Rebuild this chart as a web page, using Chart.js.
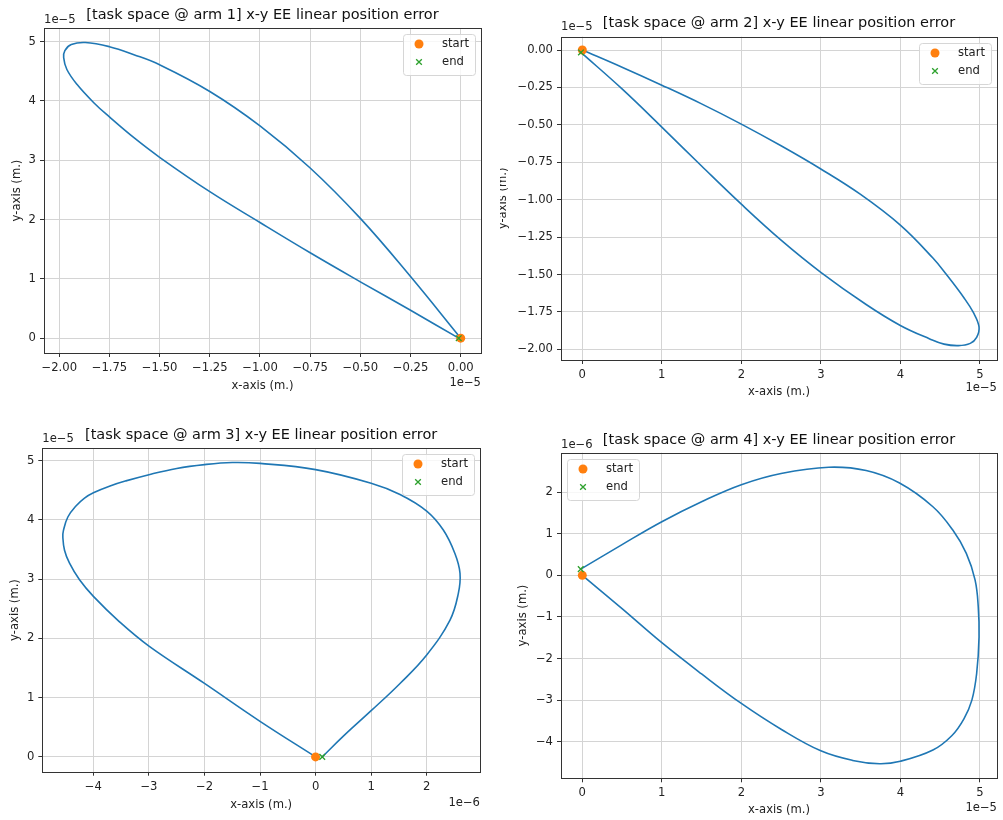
<!DOCTYPE html>
<html>
<head>
<meta charset="utf-8">
<title>x-y EE linear position error</title>
<script src="https://cdn.jsdelivr.net/npm/chart.js@4.4.1/dist/chart.umd.min.js"></script>
<style>
  body { margin: 0; background: #fff; }
  #wrap { position: relative; width: 1003px; height: 820px; overflow: hidden; }
  canvas { position: absolute; }
</style>
</head>
<body>
<div id="wrap">
  <canvas id="arm1" width="500" height="410" style="left:0;top:0"></canvas>
  <canvas id="arm2" width="503" height="410" style="left:500px;top:0"></canvas>
  <canvas id="arm3" width="500" height="410" style="left:0;top:410px"></canvas>
  <canvas id="arm4" width="503" height="410" style="left:500px;top:410px"></canvas>
</div>
<script>
// arm 1 -- x and y both in units of 1e-5 m
const arm1X = [0, -0.25, -0.5, -0.75, -1.0, -1.25, -1.5, -1.628, -1.75, -1.87, -1.94, -1.972, -1.978, -1.962, -1.912, -1.828, -1.75, -1.628, -1.5, -1.25, -1.0, -0.75, -0.5, -0.25, -0.01];
const arm1Y = [0, 1.04, 2.02, 2.87, 3.58, 4.16, 4.61, 4.78, 4.915, 4.985, 4.95, 4.85, 4.73, 4.53, 4.28, 3.97, 3.73, 3.38, 3.05, 2.47, 1.95, 1.44, 0.95, 0.47, 0];
const arm1Start = [0, 0];
const arm1End = [-0.01, 0];
const arm1XTicks = [-2, -1.75, -1.5, -1.25, -1, -0.75, -0.5, -0.25, 0];
const arm1YTicks = [0, 1, 2, 3, 4, 5];

// arm 2 -- x and y in 1e-5 m
const arm2X = [0, 0.5, 1.0, 1.5, 2.0, 2.5, 3.0, 3.5, 4.0, 4.41, 4.58, 4.8, 4.92, 4.99, 4.96, 4.88, 4.73, 4.55, 4.37, 4.0, 3.57, 3.0, 2.5, 2.0, 1.5, 1.0, 0.5, -0.017];
const arm2Y = [0, -0.115, -0.235, -0.36, -0.495, -0.64, -0.795, -0.965, -1.17, -1.39, -1.5, -1.655, -1.755, -1.85, -1.92, -1.96, -1.975, -1.965, -1.93, -1.84, -1.7, -1.485, -1.27, -1.03, -0.775, -0.515, -0.26, -0.016];
const arm2Start = [0, 0];
const arm2End = [-0.017, -0.016];
const arm2XTicks = [0, 1, 2, 3, 4, 5];
const arm2YTicks = [-2, -1.75, -1.5, -1.25, -1, -0.75, -0.5, -0.25, 0];

// arm 3 -- x in 1e-6 m, y in 1e-5 m
const arm3X = [0, -1.0, -2.0, -3.0, -3.53, -4.0, -4.25, -4.43, -4.52, -4.55, -4.54, -4.46, -4.31, -4.16, -4.0, -3.7, -3.415, -3.0, -2.5, -2.0, -1.5, -1.0, 0, 1.0, 1.52, 2.0, 2.3, 2.51, 2.6, 2.57, 2.42, 2.0, 1.52, 1.0, 0.5, 0.12];
const arm3Y = [0, 0.6, 1.24, 1.87, 2.28, 2.71, 2.99, 3.27, 3.49, 3.71, 3.82, 4.05, 4.24, 4.37, 4.46, 4.575, 4.66, 4.765, 4.87, 4.935, 4.97, 4.955, 4.85, 4.62, 4.43, 4.15, 3.83, 3.43, 3.1, 2.76, 2.31, 1.72, 1.24, 0.78, 0.35, 0];
const arm3Start = [0, 0];
const arm3End = [0.12, 0];
const arm3XTicks = [-4, -3, -2, -1, 0, 1, 2];
const arm3YTicks = [0, 1, 2, 3, 4, 5];

// arm 4 -- x in 1e-5 m, y in 1e-6 m
const arm4X = [0, 0.5, 1.0, 1.5, 2.0, 2.5, 3.0, 3.4, 3.74, 4.0, 4.41, 4.65, 4.8, 4.9, 4.96, 4.99, 4.98, 4.94, 4.83, 4.66, 4.41, 3.99, 3.57, 3.1, 2.5, 2.0, 1.5, 1.0, 0.5, -0.02];
const arm4Y = [0, -0.8, -1.62, -2.37, -3.08, -3.7, -4.22, -4.45, -4.53, -4.47, -4.2, -3.85, -3.45, -3.0, -2.36, -1.48, -0.75, -0.11, 0.53, 1.09, 1.65, 2.22, 2.52, 2.6, 2.45, 2.18, 1.77, 1.29, 0.74, 0.15];
const arm4Start = [0, 0];
const arm4End = [-0.02, 0.15];
const arm4XTicks = [0, 1, 2, 3, 4, 5];
const arm4YTicks = [-4, -3, -2, -1, 0, 1, 2];

Chart.defaults.font.family = '"DejaVu Sans", sans-serif';
Chart.defaults.color = '#222';
Chart.defaults.animation = false;

const TICK_SIZE = 11.6;
const TITLE_SIZE = 14.5;
const CANVAS_H = 410;

function pts(xs, ys) {
    return xs.map((x, i) => ({ x: x, y: ys[i] }));
}

function fmt(decimals) {
    return v => (v < 0 ? '\u2212' : '') + Math.abs(v).toFixed(decimals);
}

// matplotlib style box round the axes
const framePlugin = {
    id: 'frame',
    afterDraw(chart) {
        const a = chart.chartArea;
        const ctx = chart.ctx;
        ctx.save();
        ctx.strokeStyle = '#333';
        ctx.lineWidth = 1;
        ctx.strokeRect(Math.round(a.left) + 0.5, Math.round(a.top) + 0.5,
            Math.round(a.right) - Math.round(a.left), Math.round(a.bottom) - Math.round(a.top));
        ctx.restore();
    }
};

// legend box inside the axes
const boxLegend = {
    id: 'boxLegend',
    afterDraw(chart, args, opts) {
        const a = chart.chartArea;
        const ctx = chart.ctx;
        const w = 72, h = 41, inset = 6;
        const x0 = Math.round(opts.corner === 'nw' ? a.left + inset : a.right - inset - w);
        const y0 = Math.round(a.top + inset);
        ctx.save();
        ctx.fillStyle = 'rgba(255,255,255,0.8)';
        ctx.strokeStyle = '#d6d6d6';
        ctx.lineWidth = 1;
        ctx.beginPath();
        ctx.roundRect(x0 + 0.5, y0 + 0.5, w, h, 3);
        ctx.fill();
        ctx.stroke();
        chart.data.datasets.filter(d => d.label).forEach((d, i) => {
            const y = y0 + 10 + i * 18;
            ctx.fillStyle = d.backgroundColor;
            ctx.strokeStyle = d.borderColor;
            ctx.lineWidth = d.borderWidth;
            Chart.helpers.drawPoint(ctx, { pointStyle: d.pointStyle, radius: d.pointRadius, borderWidth: d.borderWidth }, x0 + 16, y);
            ctx.fillStyle = '#222';
            ctx.font = TICK_SIZE + 'px "DejaVu Sans"';
            ctx.textAlign = 'left';
            ctx.textBaseline = 'middle';
            ctx.fillText(d.label, x0 + 39, y);
        });
        ctx.restore();
    }
};

// the "1e-5" style multipliers
const offsetText = {
    id: 'offsetText',
    afterDraw(chart, args, opts) {
        const a = chart.chartArea;
        const ctx = chart.ctx;
        ctx.save();
        ctx.font = TICK_SIZE + 'px "DejaVu Sans"';
        ctx.fillStyle = '#222';
        ctx.textBaseline = 'middle';
        ctx.textAlign = 'left';
        ctx.fillText(opts.yText, a.left, opts.yTextY);
        ctx.textAlign = 'right';
        ctx.fillText(opts.xText, a.right, opts.xTextY);
        ctx.restore();
    }
};

const specs = [
    { id: 'arm1', title: '[task space @ arm 1] x-y EE linear position error',
      xs: arm1X, ys: arm1Y, start: arm1Start, end: arm1End,
      xTicks: arm1XTicks, yTicks: arm1YTicks, xDec: 2, yDec: 0,
      xMin: -2.076, xMax: 0.101, yMin: -0.25, yMax: 5.23,
      xText: '1e\u22125', yText: '1e\u22125', corner: 'ne',
      w: 500, left: 44, right: 481, top: 28, bottom: 353,
      titleY: 15, yTitleX: 17, xTitleY: 386, topTextY: 20, botTextY: 383 },
    { id: 'arm2', title: '[task space @ arm 2] x-y EE linear position error',
      xs: arm2X, ys: arm2Y, start: arm2Start, end: arm2End,
      xTicks: arm2XTicks, yTicks: arm2YTicks, xDec: 0, yDec: 2,
      xMin: -0.268, xMax: 5.216, yMin: -2.071, yMax: 0.089,
      xText: '1e\u22125', yText: '1e\u22125', corner: 'ne',
      w: 503, left: 61, right: 497, top: 36.7, bottom: 360,
      titleY: 23, yTitleX: 3, xTitleY: 392, topTextY: 27, botTextY: 388 },
    { id: 'arm3', title: '[task space @ arm 3] x-y EE linear position error',
      xs: arm3X, ys: arm3Y, start: arm3Start, end: arm3End,
      xTicks: arm3XTicks, yTicks: arm3YTicks, xDec: 0, yDec: 0,
      xMin: -4.92, xMax: 2.96, yMin: -0.25, yMax: 5.21,
      xText: '1e\u22126', yText: '1e\u22125', corner: 'ne',
      w: 500, left: 42.3, right: 480, top: 38.3, bottom: 361.7,
      titleY: 25, yTitleX: 15, xTitleY: 395, topTextY: 29, botTextY: 392.7 },
    { id: 'arm4', title: '[task space @ arm 4] x-y EE linear position error',
      xs: arm4X, ys: arm4Y, start: arm4Start, end: arm4End,
      xTicks: arm4XTicks, yTicks: arm4YTicks, xDec: 0, yDec: 0,
      xMin: -0.268, xMax: 5.216, yMin: -4.88, yMax: 2.95,
      xText: '1e\u22125', yText: '1e\u22126', corner: 'nw',
      w: 503, left: 61, right: 497, top: 42.7, bottom: 368.3,
      titleY: 30, yTitleX: 23, xTitleY: 400, topTextY: 35, botTextY: 398 }
];

function makeChart(s) {
    const ctx = document.getElementById(s.id).getContext('2d');
    const titleHalf = TITLE_SIZE * 1.2 / 2;
    const labelHalf = TICK_SIZE * 1.2 / 2;
    const gridOpts = { color: '#d4d4d4', lineWidth: 1, tickColor: '#333', tickLength: 4, drawTicks: true };

    // a line chart (not scatter) so the tension curve gets its control points
    return new Chart(ctx, {
        type: 'line',
        data: {
            datasets: [{
                data: pts(s.xs, s.ys),
                borderColor: '#1f77b4',
                borderWidth: 1.6,
                pointRadius: 0,
                tension: 0.4,
                fill: false,
                order: 2
            }, {
                label: 'start',
                data: [{ x: s.start[0], y: s.start[1] }],
                showLine: false,
                pointStyle: 'circle',
                pointRadius: 4.5,
                backgroundColor: '#ff7f0e',
                borderColor: '#ff7f0e',
                borderWidth: 0,
                order: 1
            }, {
                label: 'end',
                data: [{ x: s.end[0], y: s.end[1] }],
                showLine: false,
                pointStyle: 'crossRot',
                pointRadius: 4,
                backgroundColor: '#2ca02c',
                borderColor: '#2ca02c',
                borderWidth: 1.3,
                order: 0
            }]
        },
        plugins: [framePlugin, boxLegend, offsetText],
        options: {
            responsive: false,
            devicePixelRatio: 1,
            layout: {
                autoPadding: false,
                padding: { left: 0, top: 0, bottom: 0, right: s.w - s.right }
            },
            plugins: {
                legend: { display: false },
                tooltip: { enabled: false },
                title: {
                    display: true,
                    text: s.title,
                    fullSize: false,
                    color: '#111',
                    font: { size: TITLE_SIZE, weight: 'normal' },
                    padding: { top: s.titleY - titleHalf, bottom: s.top - s.titleY - titleHalf }
                },
                boxLegend: { corner: s.corner },
                offsetText: { xText: s.xText, yText: s.yText, xTextY: s.botTextY, yTextY: s.topTextY }
            },
            scales: {
                x: {
                    type: 'linear',
                    min: s.xMin,
                    max: s.xMax,
                    afterBuildTicks: sc => { sc.ticks = s.xTicks.map(v => ({ value: v })); },
                    afterFit: sc => { sc.height = CANVAS_H - s.bottom; },
                    ticks: {
                        callback: fmt(s.xDec),
                        autoSkip: false,
                        maxRotation: 0,
                        padding: 4,
                        font: { size: TICK_SIZE }
                    },
                    grid: gridOpts,
                    border: { display: false },
                    title: {
                        display: true,
                        text: 'x-axis (m.)',
                        font: { size: TICK_SIZE },
                        padding: { top: 0, bottom: (CANVAS_H - s.xTitleY) - labelHalf }
                    }
                },
                y: {
                    type: 'linear',
                    min: s.yMin,
                    max: s.yMax,
                    afterBuildTicks: sc => { sc.ticks = s.yTicks.map(v => ({ value: v })); },
                    afterFit: sc => { sc.width = s.left; },
                    ticks: {
                        callback: fmt(s.yDec),
                        autoSkip: false,
                        padding: 4,
                        font: { size: TICK_SIZE }
                    },
                    grid: gridOpts,
                    border: { display: false },
                    title: {
                        display: true,
                        text: 'y-axis (m.)',
                        font: { size: TICK_SIZE },
                        padding: { top: s.yTitleX - labelHalf, bottom: 0 }
                    }
                }
            }
        }
    });
}

specs.forEach(makeChart);
</script>
</body>
</html>
